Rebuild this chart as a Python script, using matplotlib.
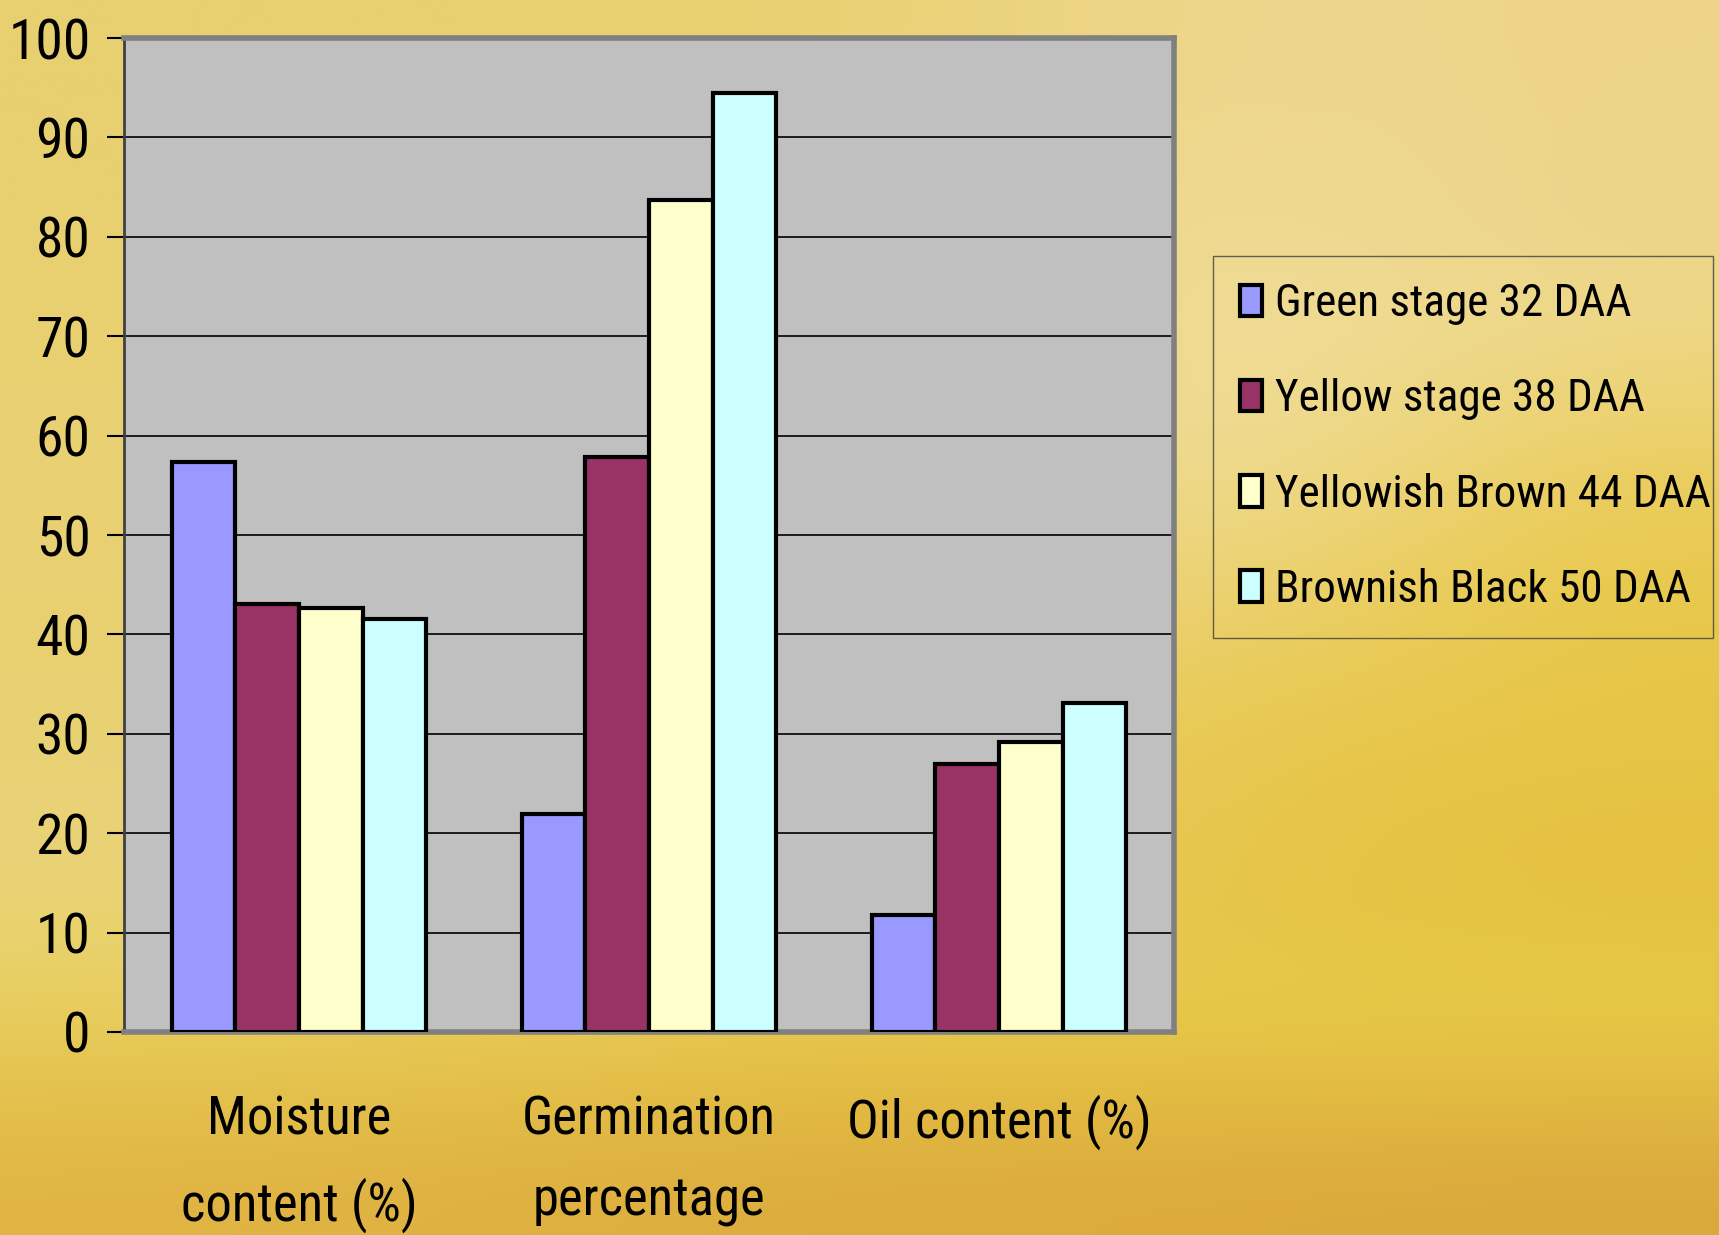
import numpy as np
import matplotlib
matplotlib.use("Agg")
import matplotlib.pyplot as plt
from matplotlib.colors import to_rgb

# condensed sans; first family found is used
plt.rcParams["font.family"] = ["Roboto Condensed", "Archivo Narrow", "PT Sans Narrow",
                               "Liberation Sans Narrow", "Liberation Sans", "DejaVu Sans"]

# ---- data ----
categories = ["Moisture\ncontent (%)", "Germination\npercentage", "Oil content (%)"]
stages = ["Green stage 32 DAA", "Yellow stage 38 DAA",
          "Yellowish Brown 44 DAA", "Brownish Black 50 DAA"]
green_32 = [57.3, 21.9, 11.8]
yellow_38 = [43.1, 57.8, 27.0]
yellowish_brown_44 = [42.7, 83.7, 29.2]
brownish_black_50 = [41.5, 94.5, 33.1]
series = [green_32, yellow_38, yellowish_brown_44, brownish_black_50]
bar_colors = ["#9999FF", "#993366", "#FFFFCC", "#CCFFFF"]
yticks = list(range(0, 101, 10))

# ---- slide-style background (decoration only) ----
bg_hex = [
    ["#E8D070", "#E8D070", "#E8D070", "#EFD890", "#EDD488"],
    ["#E8D070", "#E8D070", "#E8D070", "#F0DC98", "#ECD488"],
    ["#E8D070", "#E8D070", "#E8D070", "#F0DFA0", "#EED888"],
    ["#EAD276", "#E8D070", "#E8D070", "#F0E0A0", "#EACB58"],
    ["#E8D070", "#E8D070", "#E8D070", "#ECD070", "#E8C848"],
    ["#E9D274", "#E8D070", "#E8D070", "#E8C84C", "#E6C444"],
    ["#EAD47A", "#E8D070", "#E8D070", "#E6C446", "#E4C040"],
    ["#E8CE58", "#E8CC50", "#E8C848", "#E8CC48", "#E8CC48"],
    ["#E0B443", "#DEB040", "#DCAC3C", "#DCAA3C", "#DAA83C"],
]
bg = np.array([[to_rgb(c) for c in row] for row in bg_hex])

fig = plt.figure(figsize=(17.19, 12.35), dpi=100)
bg_ax = fig.add_axes([0, 0, 1, 1], zorder=0)
bg_ax.imshow(bg, extent=[0, 1, 0, 1], aspect="auto", interpolation="bicubic")
bg_ax.axis("off")

ax = fig.add_axes([0.0721, 0.1644, 0.6109, 0.8048], zorder=1)
ax.set_facecolor("#C0C0C0")

x = np.arange(len(categories))
w = 1 / 5.5
for i, (vals, col, lab) in enumerate(zip(series, bar_colors, stages)):
    ax.bar(x + (i - 1.5) * w, vals, w, color=col, edgecolor="black",
           linewidth=3, label=lab, zorder=3)

ax.set_xlim(-0.5, 2.5)
ax.set_ylim(0, 100)
ax.set_yticks(yticks)
ax.set_xticks(x)
ax.set_xticklabels(categories)
for lbl in ax.get_xticklabels():
    lbl.set_linespacing(1.74)
ax.yaxis.grid(True, color="black", linewidth=1.2)
ax.set_axisbelow(True)

ax.tick_params(axis="y", length=12, width=1.5, pad=12, labelsize=40, direction="out")
ax.tick_params(axis="x", length=0, pad=45, labelsize=38)

for side in ["top", "right", "bottom"]:
    ax.spines[side].set_color("#808080")
    ax.spines[side].set_linewidth(4)
ax.spines["left"].set_color("#404040")
ax.spines["left"].set_linewidth(2)

leg = fig.legend(loc="upper left", bbox_to_anchor=(0.7057, 0.4858, 0.2908, 0.3069),
                 mode="expand", borderaxespad=0, fontsize=32.5,
                 handlelength=0.48, handleheight=0.7, handletextpad=0.3,
                 labelspacing=1.18, borderpad=0.6, fancybox=False, frameon=True)
leg.get_frame().set_facecolor("none")
leg.get_frame().set_edgecolor("#404040")
leg.get_frame().set_linewidth(1)

fig.savefig("out.png", dpi=100)
